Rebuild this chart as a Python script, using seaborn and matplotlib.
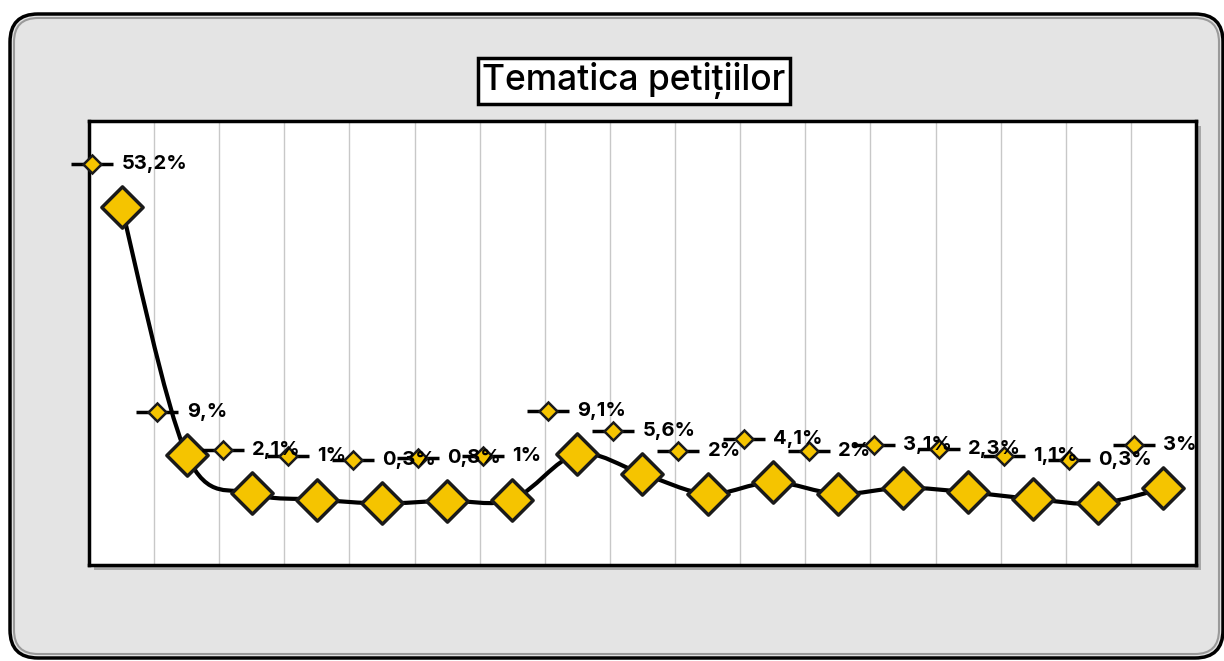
import matplotlib
matplotlib.use("Agg")
import matplotlib.pyplot as plt
import matplotlib.transforms as mtransforms
from matplotlib.patches import FancyBboxPatch, Rectangle, PathPatch
from matplotlib.path import Path
import numpy as np
import pandas as pd
import seaborn as sns

# date
categorii = list(range(1, 18))
procente = [53.2, 9.0, 2.1, 1.0, 0.3, 0.8, 1.0, 9.1, 5.6, 2.0, 4.1, 2.0, 3.1, 2.3, 1.1, 0.3, 3.0]
etichete = ['53,2%', '9,%', '2,1%', '1%', '0,3%', '0,8%', '1%', '9,1%', '5,6%', '2%',
            '4,1%', '2%', '3,1%', '2,3%', '1,1%', '0,3%', '3%']
titlu = 'Tematica petițiilor'

df = pd.DataFrame({'poz': np.arange(len(categorii)), 'procent': procente})

sns.set_style('white')
plt.rcParams['font.family'] = ['Inter', 'DejaVu Sans']

fig = plt.figure(figsize=(12.24, 6.61), dpi=100)
fig.patch.set_facecolor('white')

# rama exterioara rotunjita
rama = FancyBboxPatch((0.10, 0.03), 12.13, 6.44, boxstyle='round,pad=0,rounding_size=0.28',
                      transform=fig.dpi_scale_trans, facecolor='#e4e4e4',
                      edgecolor='black', linewidth=2.5, zorder=0)
fig.patches.append(rama)
interior = FancyBboxPatch((0.14, 0.07), 12.05, 6.36, boxstyle='round,pad=0,rounding_size=0.24',
                          transform=fig.dpi_scale_trans, facecolor='none',
                          edgecolor='#9a9a9a', linewidth=1.5, zorder=0)
fig.patches.append(interior)

# umbra zonei de grafic
umbra = Rectangle((0.0727 + 0.004, 0.1452 - 0.007), 0.9044, 0.6717,
                  transform=fig.transFigure, facecolor='#a8a8a8', edgecolor='none', zorder=0)
fig.patches.append(umbra)

ax = fig.add_axes([0.0727, 0.1452, 0.9044, 0.6717])
ax.set_zorder(2)
ax.set_facecolor('white')

# linie netezita (curbe Bezier prin punctele de date)
xs = df['poz'].to_numpy(dtype=float)
ys = df['procent'].to_numpy(dtype=float)
verts = [(xs[0], ys[0])]
codes = [Path.MOVETO]
n = len(xs)
for i in range(n - 1):
    p0 = (xs[max(i - 1, 0)], ys[max(i - 1, 0)])
    p1 = (xs[i], ys[i])
    p2 = (xs[i + 1], ys[i + 1])
    p3 = (xs[min(i + 2, n - 1)], ys[min(i + 2, n - 1)])
    c1 = (p1[0] + (p2[0] - p0[0]) / 6, p1[1] + (p2[1] - p0[1]) / 6)
    c2 = (p2[0] - (p3[0] - p1[0]) / 6, p2[1] - (p3[1] - p1[1]) / 6)
    verts += [c1, c2, p2]
    codes += [Path.CURVE4] * 3
ax.add_patch(PathPatch(Path(verts, codes), facecolor='none', edgecolor='black',
                       linewidth=3, zorder=4))

sns.scatterplot(data=df, x='poz', y='procent', ax=ax, marker='D', s=21 ** 2,
                color='#f5c400', edgecolor='#1a1a1a', linewidth=2.5, zorder=5, legend=False)

ax.set_xlim(-0.5, len(categorii) - 0.5)
ax.set_ylim(-10.7, 68.6)
ax.set_xticks(np.arange(0.5, len(categorii) - 0.5, 1.0), minor=True)
ax.set_xticks([])
ax.set_yticks([])
ax.grid(which='minor', axis='x', color='#c8c8c8', linewidth=1)
ax.tick_params(which='both', length=0)
ax.set_xlabel('')
ax.set_ylabel('')
for s in ax.spines.values():
    s.set_color('black')
    s.set_linewidth(2.5)

# etichete de date cu cheie de legenda
cheie_tr = mtransforms.offset_copy(ax.transData, fig=fig, x=-21, y=31, units='points')
ax.plot(df['poz'], df['procent'], linestyle='none', marker='_', markersize=30,
        markeredgewidth=2.5, color='black', transform=cheie_tr, zorder=6, clip_on=False)
ax.plot(df['poz'], df['procent'], linestyle='none', marker='D', markersize=9.5,
        markerfacecolor='#f5c400', markeredgecolor='#1a1a1a', markeredgewidth=1.8,
        transform=cheie_tr, zorder=7, clip_on=False)
for x, y, t in zip(df['poz'], df['procent'], etichete):
    ax.annotate(t, (x, y), xytext=(0, 31), textcoords='offset points',
                ha='left', va='center', fontsize=14.5, fontweight='bold',
                color='black', zorder=8, annotation_clip=False)

fig.text(0.518, 0.8775, titlu, ha='center', va='center', fontsize=25.5,
         fontweight='medium', color='black',
         bbox=dict(boxstyle='square,pad=0.13', facecolor='white', edgecolor='black', linewidth=2.5))

fig.savefig('out.png', dpi=100)
